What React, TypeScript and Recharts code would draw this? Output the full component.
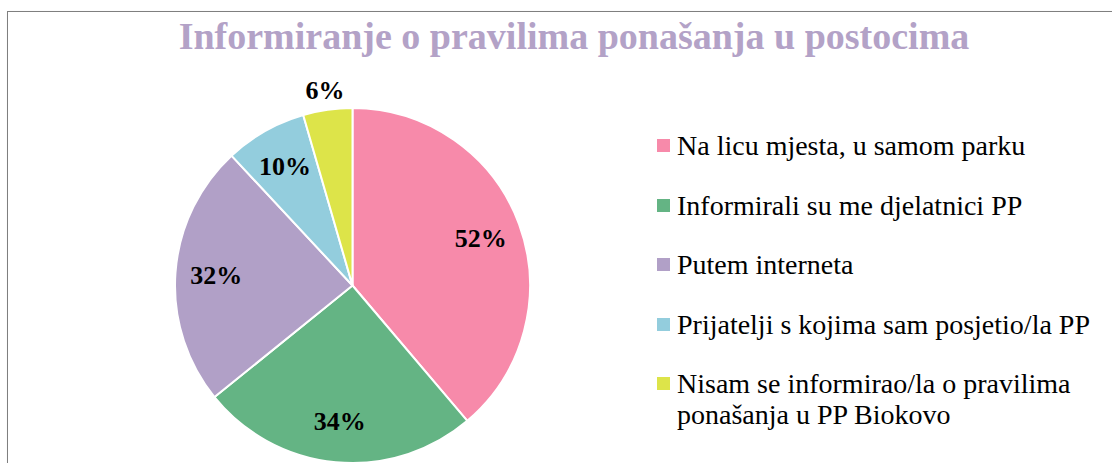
import React from "react";
import { PieChart, Pie, Cell } from "recharts";

const categories = [
  "Na licu mjesta, u samom parku",
  "Informirali su me djelatnici PP",
  "Putem interneta",
  "Prijatelji s kojima sam posjetio/la PP",
  "Nisam se informirao/la o pravilima ponašanja u PP Biokovo",
];
const values = [52, 34, 32, 10, 6];
const colors = ["#F78AAA", "#64B484", "#B1A0C7", "#93CDDD", "#DDE449"];
const title = "Informiranje o pravilima ponašanja u postocima";

const data = categories.map((name, i) => ({ name, value: values[i] }));

const SERIF = "'Liberation Serif', 'Times New Roman', serif";
const RAD = Math.PI / 180;
const renderLabel = (props: any) => {
  const { cx, cy, midAngle, outerRadius, value, percent } = props;
  const f = percent < 0.06 ? 1.11 : 0.77;
  const r = outerRadius * f;
  const x = cx + r * Math.cos(-midAngle * RAD);
  const y = cy + r * Math.sin(-midAngle * RAD);
  return (
    <text
      x={x}
      y={y}
      textAnchor="middle"
      dominantBaseline="central"
      fontFamily={SERIF}
      fontWeight="bold"
      fontSize={26}
      fill="#000"
    >
      {value}%
    </text>
  );
};

export default function App() {
  return (
    <div style={{ position: "absolute", left: 0, top: 0, width: 1112, height: 463, overflow: "hidden", background: "#fff" }}>
      <div
        style={{
          position: "absolute",
          left: 7,
          top: 11,
          width: 1130,
          height: 480,
          border: "1px solid #7f7f7f",
          boxShadow: "2px 2px 3px rgba(0,0,0,0.25)",
        }}
      />
      <div
        style={{
          position: "absolute",
          left: 0,
          width: 1148,
          top: 14,
          textAlign: "center",
          fontFamily: SERIF,
          fontWeight: "bold",
          fontSize: 38,
          lineHeight: "44px",
          color: "#B3A2C7",
          whiteSpace: "nowrap",
        }}
      >
        {title}
      </div>
      <div style={{ position: "absolute", left: 0, top: 0 }}>
        <PieChart width={1112} height={463} margin={{ top: 0, right: 0, bottom: 0, left: 0 }}>
          <Pie
            data={data}
            dataKey="value"
            nameKey="name"
            cx={352.5}
            cy={285.5}
            outerRadius={177.5}
            startAngle={90}
            endAngle={-270}
            stroke="#ffffff"
            strokeWidth={2}
            label={renderLabel}
            labelLine={false}
            isAnimationActive={false}
          >
            {data.map((d, i) => (
              <Cell key={d.name} fill={colors[i]} />
            ))}
          </Pie>
        </PieChart>
      </div>
      <div
        style={{
          position: "absolute",
          left: 655,
          top: 130,
          fontFamily: SERIF,
          fontSize: 28,
          color: "#000",
        }}
      >
        {categories.map((c, i) => (
          <div key={c} style={{ position: "relative", paddingLeft: 22, width: 420, lineHeight: "31px", marginBottom: 28.5 }}>
            <span
              style={{
                position: "absolute",
                left: 2,
                top: 9,
                width: 13,
                height: 13,
                background: colors[i],
              }}
            />
            {c}
          </div>
        ))}
      </div>
    </div>
  );
}
